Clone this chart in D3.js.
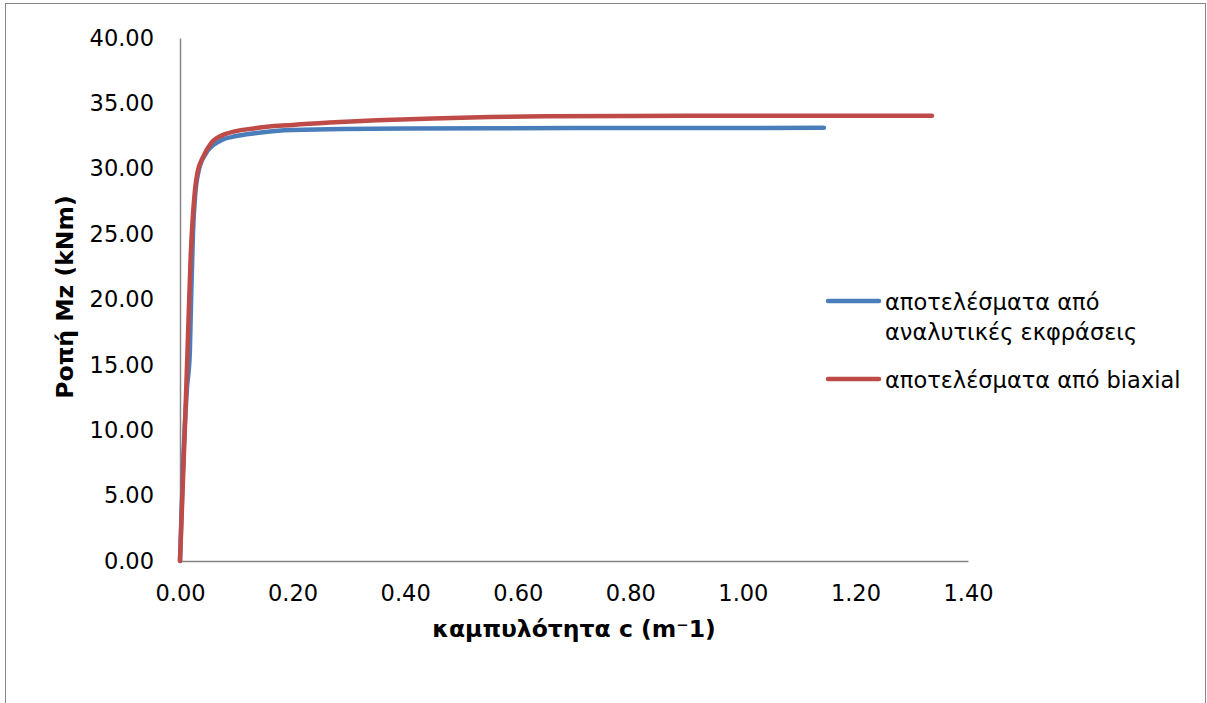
<!DOCTYPE html>
<html>
<head>
<meta charset="utf-8">
<script src="https://cdn.jsdelivr.net/npm/d3@7"></script>
<style>
  html, body { margin: 0; padding: 0; background: #fff; }
  svg { display: block; }
  text { font-family: "DejaVu Sans", sans-serif; fill: #000; }
</style>
</head>
<body>
<svg id="chart" width="1207" height="703"></svg>
<script>
// Moment–curvature results: curvature c (1/m) vs moment Mz (kNm)
const analyticC = [0, 0.006, 0.012, 0.0175, 0.020, 0.023, 0.027, 0.033, 0.045, 0.07, 0.10, 0.133, 0.20, 0.40, 0.70, 1.144];
const analyticM = [0, 8.0, 13.0, 16.0, 20.5, 25.0, 28.0, 29.8, 31.1, 32.1, 32.5, 32.72, 32.97, 33.08, 33.11, 33.13];

const biaxialC = [0, 0.009, 0.013, 0.019, 0.0267, 0.031, 0.041, 0.056, 0.08, 0.133, 0.20, 0.266, 0.35, 0.45, 0.55, 0.65, 0.80, 1.00, 1.336];
const biaxialM = [0, 10.6, 15.6, 23.3, 28.4, 29.7, 30.9, 32.0, 32.65, 33.1, 33.35, 33.53, 33.7, 33.85, 33.95, 34.01, 34.04, 34.05, 34.06];

const seriesNames = ["αποτελέσματα από αναλυτικές εκφράσεις", "αποτελέσματα από biaxial"];
const seriesColors = ["#4A7EBB", "#BE4B48"];

const xTicks = [0, 0.2, 0.4, 0.6, 0.8, 1.0, 1.2, 1.4];
const yTicks = [0, 5, 10, 15, 20, 25, 30, 35, 40];

const xTitle = "καμπυλότητα c (m⁻1)";
const yTitle = "Ροπή Mz (kNm)";

const svg = d3.select("#chart");

// outer chart frame
svg.append("rect")
  .attr("x", 5.5).attr("y", 3.5)
  .attr("width", 1200).attr("height", 740)
  .attr("fill", "none").attr("stroke", "#868686").attr("stroke-width", 1);

const x = d3.scaleLinear().domain([0, 1.4]).range([180, 968]);
const y = d3.scaleLinear().domain([0, 40]).range([561, 38]);

// axes (no tick marks, grey axis lines)
const xAxis = svg.append("g")
  .attr("transform", `translate(0,${y(0)})`)
  .call(d3.axisBottom(x).tickValues(xTicks).tickFormat(d3.format(".2f")).tickSize(0).tickPadding(24));
const yAxis = svg.append("g")
  .attr("transform", `translate(${x(0)},0)`)
  .call(d3.axisLeft(y).tickValues(yTicks).tickFormat(d3.format(".2f")).tickSize(0).tickPadding(26));

[xAxis, yAxis].forEach(g => {
  g.select(".domain").attr("stroke", "#868686").attr("stroke-width", 1.5);
  g.selectAll("text").style("font-family", "DejaVu Sans, sans-serif").style("font-size", "22.5px").attr("fill", "#000");
});

// axis titles
svg.append("text")
  .attr("x", 574).attr("y", 637)
  .attr("text-anchor", "middle")
  .style("font-size", "23.5px").style("font-weight", "bold")
  .text(xTitle);

svg.append("text")
  .attr("transform", `translate(73,${297}) rotate(-90)`)
  .attr("text-anchor", "middle")
  .style("font-size", "23.5px").style("font-weight", "bold")
  .text(yTitle);

// curves
const line = d3.line()
  .x(d => x(d[0]))
  .y(d => y(d[1]))
  .curve(d3.curveMonotoneX);

const analytic = analyticC.map((c, i) => [c, analyticM[i]]);
const biaxial = biaxialC.map((c, i) => [c, biaxialM[i]]);

[analytic, biaxial].forEach((pts, i) => {
  svg.append("path")
    .datum(pts)
    .attr("d", line)
    .attr("fill", "none")
    .attr("stroke", seriesColors[i])
    .attr("stroke-width", 4.5)
    .attr("stroke-linecap", "round")
    .attr("stroke-linejoin", "round");
});

// legend
const legend = svg.append("g");
const legendRows = [
  { y: 301, lines: ["αποτελέσματα από", "αναλυτικές εκφράσεις"] },
  { y: 379, lines: ["αποτελέσματα από biaxial"] }
];
legendRows.forEach((row, i) => {
  legend.append("line")
    .attr("x1", 828).attr("x2", 879)
    .attr("y1", row.y).attr("y2", row.y)
    .attr("stroke", seriesColors[i]).attr("stroke-width", 4.5)
    .attr("stroke-linecap", "round");
  const t = legend.append("text")
    .attr("x", 885).attr("y", row.y + 9)
    .style("font-size", "22.5px");
  row.lines.forEach((s, j) => {
    t.append("tspan").attr("x", 885).attr("dy", j === 0 ? 0 : 30).text(s);
  });
});
</script>
</body>
</html>
